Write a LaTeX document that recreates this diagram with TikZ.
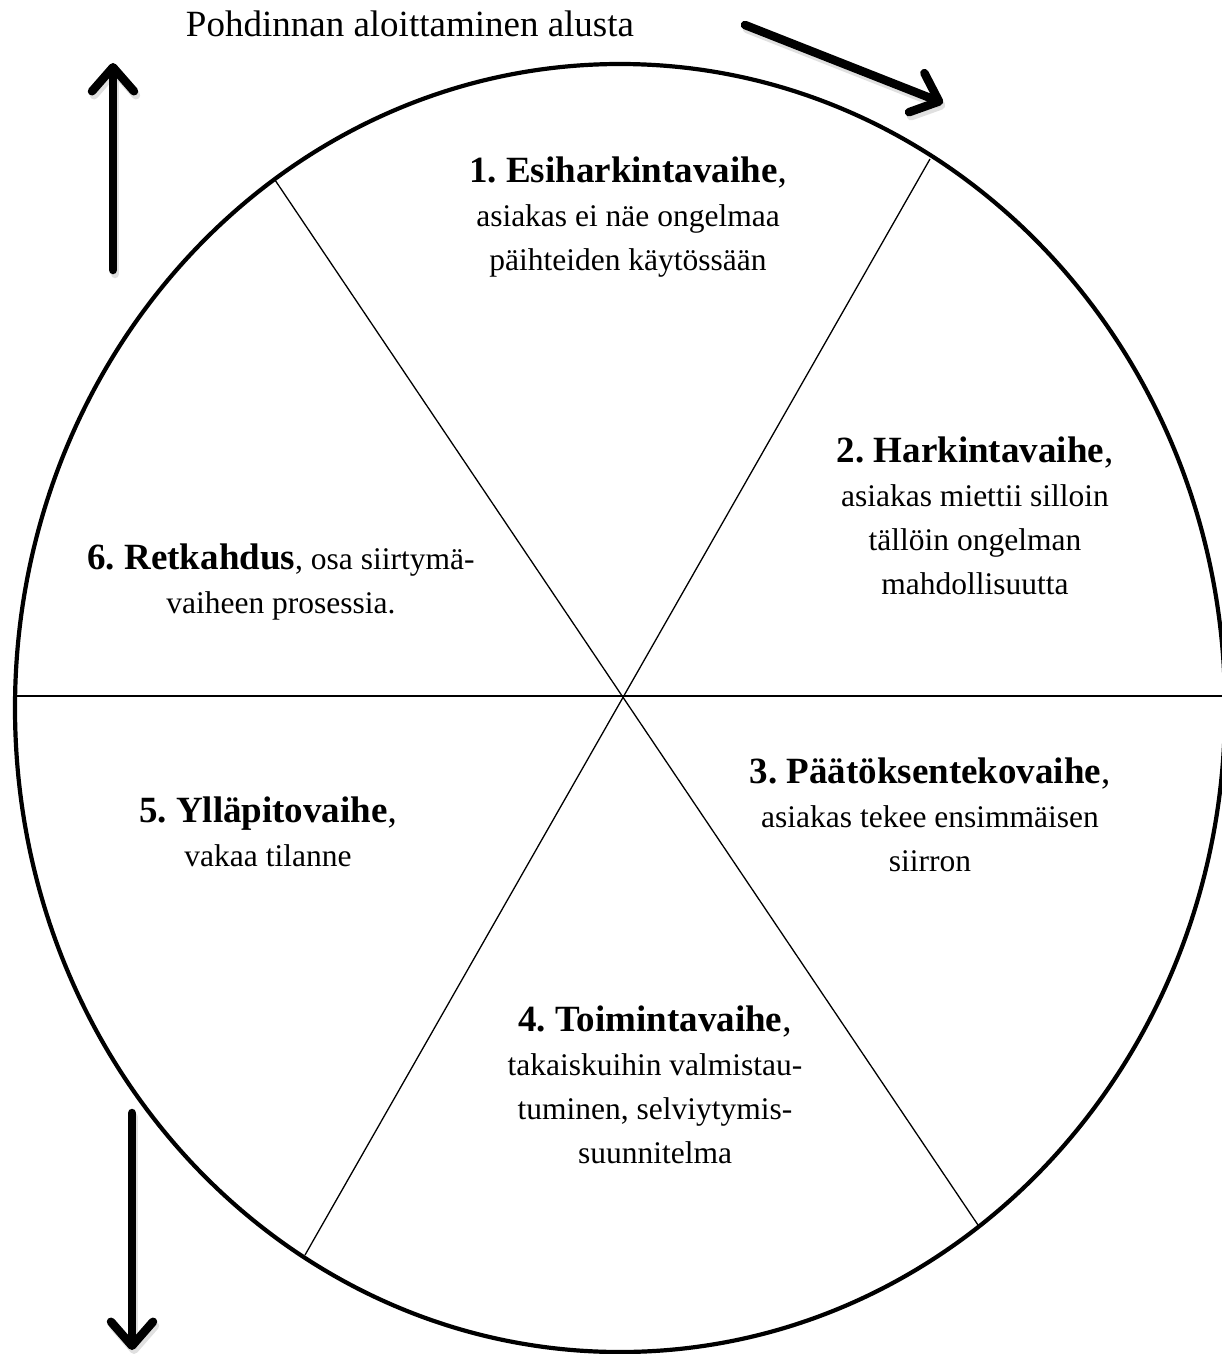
\documentclass[tikz,border=0pt]{standalone}
\usepackage{fontspec}
\setmainfont{Liberation Serif}
\usetikzlibrary{arrows.meta}
\frenchspacing
\newcommand\bodyfnt{\fontsize{31.5}{44}\selectfont}
\newcommand\headfnt{\fontsize{37}{46}\selectfont}
\begin{document}
\begin{tikzpicture}[x=1pt,y=-1pt,
  rim/.style={line width=4.2pt},
  spoke/.style={line width=1.3pt},
  bigarrow/.style={line width=8.5pt, line cap=round,
    -{Straight Barb[length=24pt,width=42pt,round]}},
  shadowarrow/.style={bigarrow, draw=black!20, opacity=0.6},
  blk/.style={align=center, font=\bodyfnt, inner sep=0pt},
]
\useasboundingbox (0,0) rectangle (1222,1354);
% wheel
\draw[rim] (620,708) ellipse [x radius=605, y radius=644];
\coordinate (a1) at (275,180);
\coordinate (a2) at (978,1225);
\coordinate (b1) at (930,159);
\coordinate (b2) at (305,1255);
\coordinate (h1) at (15,696);
\coordinate (h2) at (1222,696);
\draw[spoke] (a1) -- (a2);
\draw[spoke] (b1) -- (b2);
\draw[spoke] (h1) -- (h2);
% arrows
\coordinate (r1) at (745,25);
\coordinate (r2) at (943,103);
\coordinate (u1) at (113,270);
\coordinate (u2) at (113,63);
\coordinate (d1) at (132,1113);
\coordinate (d2) at (132,1350);
\draw[shadowarrow] ([shift={(2,4)}]r1) -- ([shift={(2,4)}]r2);
\draw[shadowarrow] ([shift={(2,4)}]u1) -- ([shift={(2,4)}]u2);
\draw[shadowarrow] ([shift={(2,4)}]d1) -- ([shift={(2,4)}]d2);
\draw[bigarrow] (r1) -- (r2);
\draw[bigarrow] (u1) -- (u2);
\draw[bigarrow] (d1) -- (d2);
% texts
\node[font=\headfnt, inner sep=0pt, anchor=base] (title) at (410,37) {Pohdinnan aloittaminen alusta};
\node[blk] (s1) at (628,217) {{\headfnt\textbf{1. Esiharkintavaihe},}\\ asiakas ei näe ongelmaa\\ päihteiden käytössään};
\node[blk] (s2) at (975,516) {{\headfnt\textbf{2. Harkintavaihe},}\\ asiakas miettii silloin\\ tällöin ongelman\\ mahdollisuutta};
\node[blk] (s3) at (930,815) {{\headfnt\textbf{3. Päätöksentekovaihe},}\\ asiakas tekee ensimmäisen\\ siirron};
\node[blk] (s4) at (655,1085) {{\headfnt\textbf{4. Toimintavaihe},}\\ takaiskuihin valmistau-\\ tuminen, selviytymis-\\ suunnitelma};
\node[blk] (s5) at (268,832) {{\headfnt\textbf{5. Ylläpitovaihe},}\\ vakaa tilanne};
\node[blk] (s6) at (281,582) {{\headfnt\textbf{6. Retkahdus}}, osa siirtymä-\\ vaiheen prosessia.};
\end{tikzpicture}
\end{document}
